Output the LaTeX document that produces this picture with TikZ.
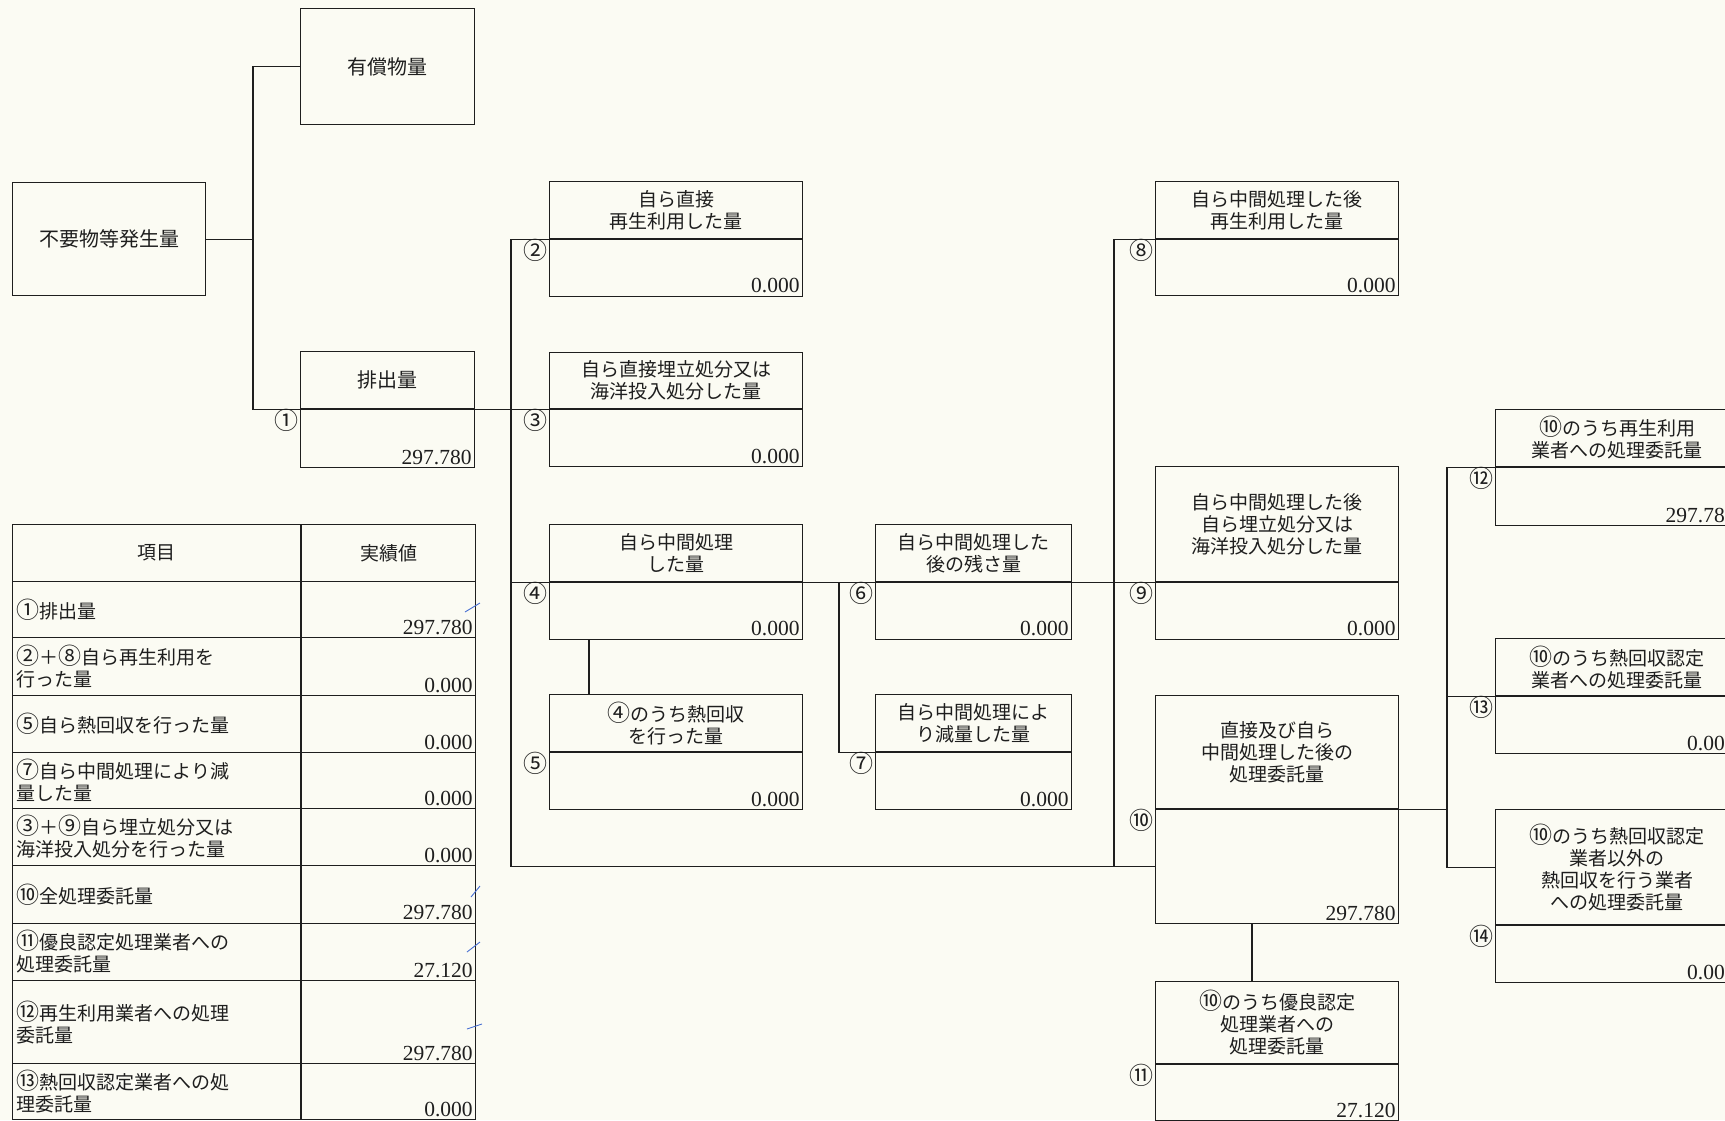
\documentclass[tikz,border=0pt]{standalone}
\usepackage{fontspec}
\usepackage{tikz}
\newfontfamily\jpfont{Noto Sans CJK JP}
\newfontfamily\valfont{Liberation Serif}
\newcommand\circd[1]{{\fontsize{23}{22}\selectfont #1}}
\definecolor{paper}{RGB}{251,251,243}
\definecolor{ink}{RGB}{30,30,30}
\definecolor{tick}{RGB}{70,110,210}

\begin{document}
\begin{tikzpicture}[x=1pt, y=-1pt, line width=1.1pt, ink,
    qbox/.style 2 args={draw, anchor=north west, inner sep=0pt, align=center,
      minimum width=#1, minimum height=#2, font=\jpfont\fontsize{19}{22}\selectfont},
    tcell/.style 2 args={qbox={#1}{#2}, align=left, text width=280pt, inner xsep=4pt},
    big/.style={font=\jpfont\fontsize{20}{22}\selectfont},
    qval/.style={anchor=south east, inner sep=3pt, font=\valfont\fontsize{21.5}{21.5}\selectfont},
    qtag/.style={anchor=north east, inner xsep=0.5pt, inner ysep=0pt, font=\jpfont\fontsize{24}{24}\selectfont}]
    \useasboundingbox (0,0) rectangle (1725,1120);
    \clip (0,0) rectangle (1725,1120);
    \fill[paper] (0,0) rectangle (1725,1120);

    \node[qbox={193pt}{113pt}, big] (gen) at (12,182) {不要物等発生量};
    \node[qbox={174pt}{116pt}, big] (yusho) at (300,8) {有償物量};
    \node[qbox={174pt}{57pt}, big] (b1l) at (300,351) {排出量};
    \node[qbox={174pt}{58pt}, label={[qval]south east:297.780}, label={[qtag]north west:①}] (b1v) at (b1l.south west) {};

    \node[qbox={253pt}{57pt}] (b2l) at (549,181) {自ら直接\\再生利用した量};
    \node[qbox={253pt}{56.5pt}, label={[qval]south east:0.000}, label={[qtag]north west:②}] (b2v) at (b2l.south west) {};
    \node[qbox={253pt}{56.5pt}] (b3l) at (549,351.5) {自ら直接埋立処分又は\\海洋投入処分した量};
    \node[qbox={253pt}{57pt}, label={[qval]south east:0.000}, label={[qtag]north west:③}] (b3v) at (b3l.south west) {};
    \node[qbox={253pt}{57pt}] (b4l) at (549,524) {自ら中間処理\\した量};
    \node[qbox={253pt}{56.5pt}, label={[qval]south east:0.000}, label={[qtag]north west:④}] (b4v) at (b4l.south west) {};
    \node[qbox={253pt}{57pt}] (b5l) at (549,694) {\circd{④}のうち熱回収\\を行った量};
    \node[qbox={253pt}{57pt}, label={[qval]south east:0.000}, label={[qtag]north west:⑤}] (b5v) at (b5l.south west) {};

    \node[qbox={196pt}{57pt}] (b6l) at (875,524) {自ら中間処理した\\後の残さ量};
    \node[qbox={196pt}{56.5pt}, label={[qval]south east:0.000}, label={[qtag]north west:⑥}] (b6v) at (b6l.south west) {};
    \node[qbox={196pt}{57pt}] (b7l) at (875,694) {自ら中間処理によ\\り減量した量};
    \node[qbox={196pt}{57pt}, label={[qval]south east:0.000}, label={[qtag]north west:⑦}] (b7v) at (b7l.south west) {};

    \node[qbox={243pt}{57pt}] (b8l) at (1155,181) {自ら中間処理した後\\再生利用した量};
    \node[qbox={243pt}{56pt}, label={[qval]south east:0.000}, label={[qtag]north west:⑧}] (b8v) at (b8l.south west) {};
    \node[qbox={243pt}{115pt}] (b9l) at (1155,466) {自ら中間処理した後\\自ら埋立処分又は\\海洋投入処分した量};
    \node[qbox={243pt}{56.5pt}, label={[qval]south east:0.000}, label={[qtag]north west:⑨}] (b9v) at (b9l.south west) {};
    \node[qbox={243pt}{113pt}] (b10l) at (1155,695) {直接及び自ら\\中間処理した後の\\処理委託量};
    \node[qbox={243pt}{114pt}, label={[qval]south east:297.780}, label={[qtag]north west:⑩}] (b10v) at (b10l.south west) {};
    \node[qbox={243pt}{82pt}] (b11l) at (1155,981) {\circd{⑩}のうち優良認定\\処理業者への\\処理委託量};
    \node[qbox={243pt}{56pt}, label={[qval]south east:27.120}, label={[qtag]north west:⑪}] (b11v) at (b11l.south west) {};

    \node[qbox={243pt}{57.5pt}] (b12l) at (1495,408.5) {\circd{⑩}のうち再生利用\\業者への処理委託量};
    \node[qbox={243pt}{58pt}, label={[qval]south east:297.780}, label={[qtag]north west:⑫}] (b12v) at (b12l.south west) {};
    \node[qbox={243pt}{57pt}] (b13l) at (1495,638) {\circd{⑩}のうち熱回収認定\\業者への処理委託量};
    \node[qbox={243pt}{57pt}, label={[qval]south east:0.000}, label={[qtag]north west:⑬}] (b13v) at (b13l.south west) {};
    \node[qbox={243pt}{115pt}] (b14l) at (1495,809) {\circd{⑩}のうち熱回収認定\\業者以外の\\熱回収を行う業者\\への処理委託量};
    \node[qbox={243pt}{57pt}, label={[qval]south east:0.000}, label={[qtag]north west:⑭}] (b14v) at (b14l.south west) {};

    \coordinate (ja) at (253,0);
    \coordinate (jb) at (511,0);
    \coordinate (jc) at (839,0);
    \coordinate (jd) at (1114,0);
    \coordinate (je) at (1447,0);

    \draw (gen.east) -- (gen.east -| ja);
    \draw (yusho.west) -| (b1l.south west -| ja) -- (b1l.south west);
    \draw (b1l.south east) -- (b3l.south west);
    \draw (b2l.south west) -| (b10v.west -| jb) -- (b10v.west);
    \draw (b4l.south west) -- (b4l.south west -| jb);
    \draw (b4l.south east) -- (b6l.south west);
    \draw (b4l.south -| jc) |- (b7l.south west);
    \draw ([xshift=40pt]b4v.south west) -- ([xshift=40pt]b5l.north west);
    \draw (b6l.south east) -- (b9l.south west);
    \draw (b8l.south west) -| (b10v.west -| jd);
    \draw ([xshift=97pt]b10v.south west) -- ([xshift=97pt]b11l.north west);
    \draw (b12l.south west) -| (b14l.west -| je) -- (b14l.west);
    \draw (b13l.south west) -- (b13l.south west -| je);
    \draw (b10l.south east) -- (b10l.south east -| je);

    \node[qbox={288pt}{57pt}] (th1) at (12,524) {項目};
    \node[qbox={174pt}{57pt}] (th2) at (th1.north east) {実績値};
    \foreach \y/\h/\txt/\val [count=\i] in {
        581/56/{\circd{①}排出量}/297.780,
        637/58/{\circd{②}＋\circd{⑧}自ら再生利用を\\行った量}/0.000,
        695/57/{\circd{⑤}自ら熱回収を行った量}/0.000,
        752/56/{\circd{⑦}自ら中間処理により減\\量した量}/0.000,
        808/57/{\circd{③}＋\circd{⑨}自ら埋立処分又は\\海洋投入処分を行った量}/0.000,
        865/57.5/{\circd{⑩}全処理委託量}/297.780,
        922.5/57.5/{\circd{⑪}優良認定処理業者への\\処理委託量}/27.120,
        980/83/{\circd{⑫}再生利用業者への処理\\委託量}/297.780,
        1063/56/{\circd{⑬}熱回収認定業者への処\\理委託量}/0.000}
    {
        \node[tcell={288pt}{\h pt}] (item\i) at (12,\y) {\txt};
        \node[qbox={174pt}{\h pt}, label={[qval]south east:\val}] (val\i) at (item\i.north east) {};
    }

    \draw[tick, line width=0.9pt] (465,612) -- (480,603);
    \draw[tick, line width=0.9pt] (471,897) -- (480,886);
    \draw[tick, line width=0.9pt] (467,952) -- (480,942);
    \draw[tick, line width=0.9pt] (467,1029) -- (482,1024);
\end{tikzpicture}
\end{document}
